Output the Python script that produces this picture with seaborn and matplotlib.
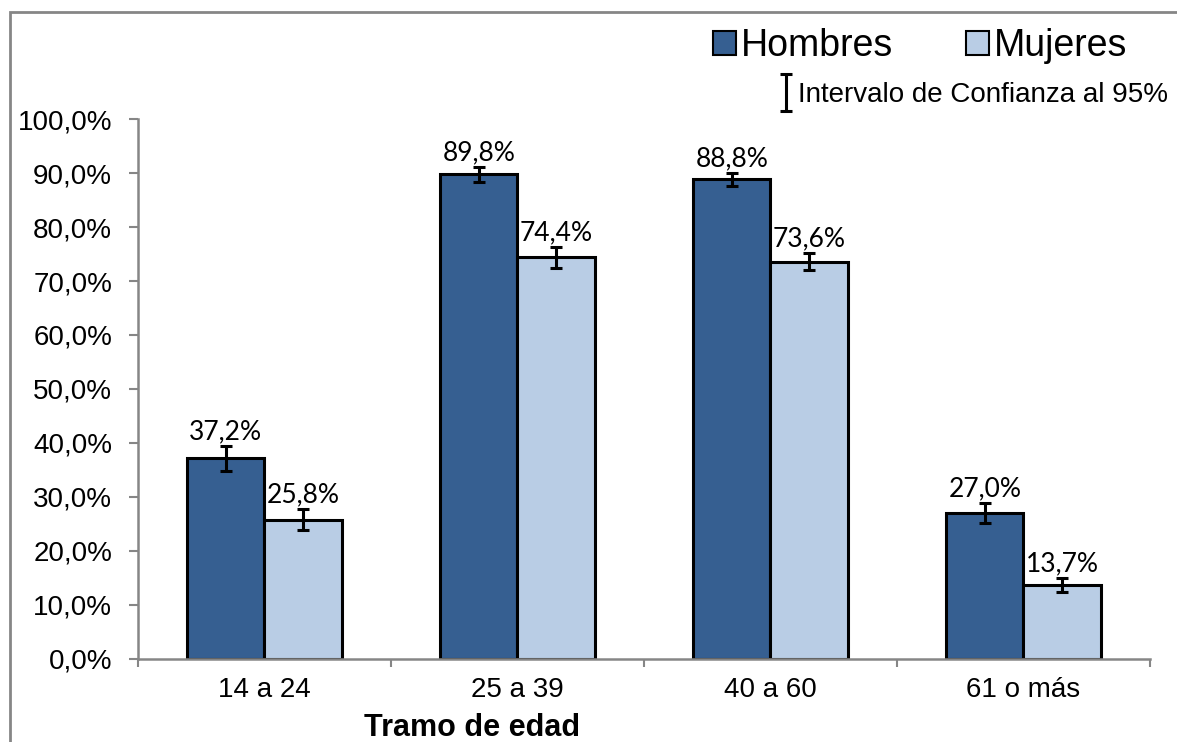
import numpy as np
import pandas as pd
import matplotlib
matplotlib.use("Agg")
import matplotlib.pyplot as plt
import seaborn as sns
from matplotlib.patches import Patch, Rectangle
from matplotlib.container import ErrorbarContainer
from matplotlib.legend_handler import HandlerErrorbar
from matplotlib.ticker import FuncFormatter, FixedLocator

# data
tramos = ["14 a 24", "25 a 39", "40 a 60", "61 o más"]
hombres = [37.2, 89.8, 88.8, 27.0]
mujeres = [25.8, 74.4, 73.6, 13.7]
err_hombres = [2.3, 1.4, 1.2, 1.9]
err_mujeres = [2.0, 1.9, 1.6, 1.3]
y_ticks = [0, 10, 20, 30, 40, 50, 60, 70, 80, 90, 100]

COLOR_H = "#365F91"
COLOR_M = "#B9CDE5"
GRAY = "#868686"

sns.set_style("white")
plt.rcParams["font.family"] = ["Liberation Sans", "DejaVu Sans"]
plt.rcParams["text.color"] = "black"
plt.rcParams["xtick.color"] = "black"
plt.rcParams["ytick.color"] = "black"
plt.rcParams["axes.labelcolor"] = "black"

df = pd.DataFrame({
    "tramo": tramos * 2,
    "sexo": ["Hombres"] * 4 + ["Mujeres"] * 4,
    "valor": hombres + mujeres,
})

fig = plt.figure(figsize=(11.77, 7.42), dpi=100)
# outer frame of the chart area (runs off the bottom/right of the image)
fig.add_artist(Rectangle((10 / 1177, -0.2), 1.2, 0.2 + (742 - 12.5) / 742,
                         transform=fig.transFigure, fill=False,
                         edgecolor=GRAY, linewidth=2))
ax = fig.add_axes([0.1172, 0.1119, 0.8598, 0.7277])

sns.barplot(data=df, x="tramo", y="valor", hue="sexo", order=tramos,
            hue_order=["Hombres", "Mujeres"],
            palette={"Hombres": COLOR_H, "Mujeres": COLOR_M}, saturation=1,
            width=0.61, errorbar=None, edgecolor="black", linewidth=2.2,
            legend=False, ax=ax)

# error bars and value labels on top of each bar
bars_h = ax.containers[0]
bars_m = ax.containers[1]
eb = None
for bars, vals, errs in [(bars_h, hombres, err_hombres), (bars_m, mujeres, err_mujeres)]:
    xs = [p.get_x() + p.get_width() / 2 for p in bars]
    eb = ax.errorbar(xs, vals, yerr=errs, fmt="none", ecolor="black",
                     elinewidth=2.2, capsize=4, capthick=2.2)
    for x, v, e in zip(xs, vals, errs):
        lab = f"{v:.1f}%".replace(".", ",")
        ax.annotate(lab, (x, v + e), xytext=(0, 1), textcoords="offset points",
                    ha="center", va="bottom", fontsize=19, family=["Lato", "DejaVu Sans"])

ax.set_ylim(0, 100)
ax.set_xlim(-0.5, 3.5)
ax.set_yticks(y_ticks)
ax.yaxis.set_major_formatter(FuncFormatter(lambda v, p: f"{v:.1f}%".replace(".", ",")))
ax.tick_params(axis="y", labelsize=20, length=6.5, width=1.5, color=GRAY, direction="out", left=True, pad=12)
ax.tick_params(axis="x", which="major", labelsize=20, length=0, pad=13)
ax.xaxis.set_minor_locator(FixedLocator([-0.5, 0.5, 1.5, 2.5, 3.5]))
ax.tick_params(axis="x", which="minor", length=6, width=1.5, color=GRAY, direction="out", bottom=True)

ax.set_xlabel("Tramo de edad", fontsize=22, fontweight="bold")
ax.xaxis.set_label_coords(0.33, -0.1)
ax.set_ylabel("")

for s in ["top", "right"]:
    ax.spines[s].set_visible(False)
for s in ["left", "bottom"]:
    ax.spines[s].set_color(GRAY)
    ax.spines[s].set_linewidth(1.8)
    ax.spines[s].set_zorder(5)

handles = [Patch(facecolor=COLOR_H, edgecolor="black", linewidth=1.5, label="Hombres"),
           Patch(facecolor=COLOR_M, edgecolor="black", linewidth=1.5, label="Mujeres")]
leg1 = fig.legend(handles=handles, loc="upper right", bbox_to_anchor=(0.958, 0.962),
                  ncol=2, frameon=False, fontsize=27, handlelength=0.62, handleheight=0.62,
                  handletextpad=0.13, columnspacing=1.95, borderaxespad=0, borderpad=0)
leg2 = fig.legend(handles=[eb], labels=["Intervalo de Confianza al 95%"],
                  loc="upper right", bbox_to_anchor=(0.9924, 0.889), frameon=False,
                  fontsize=20, handlelength=0.5, handletextpad=0.2, borderaxespad=0, borderpad=0,
                  handler_map={ErrorbarContainer: HandlerErrorbar(xerr_size=0.3, yerr_size=0.66)})

fig.savefig("out.png", dpi=100)
